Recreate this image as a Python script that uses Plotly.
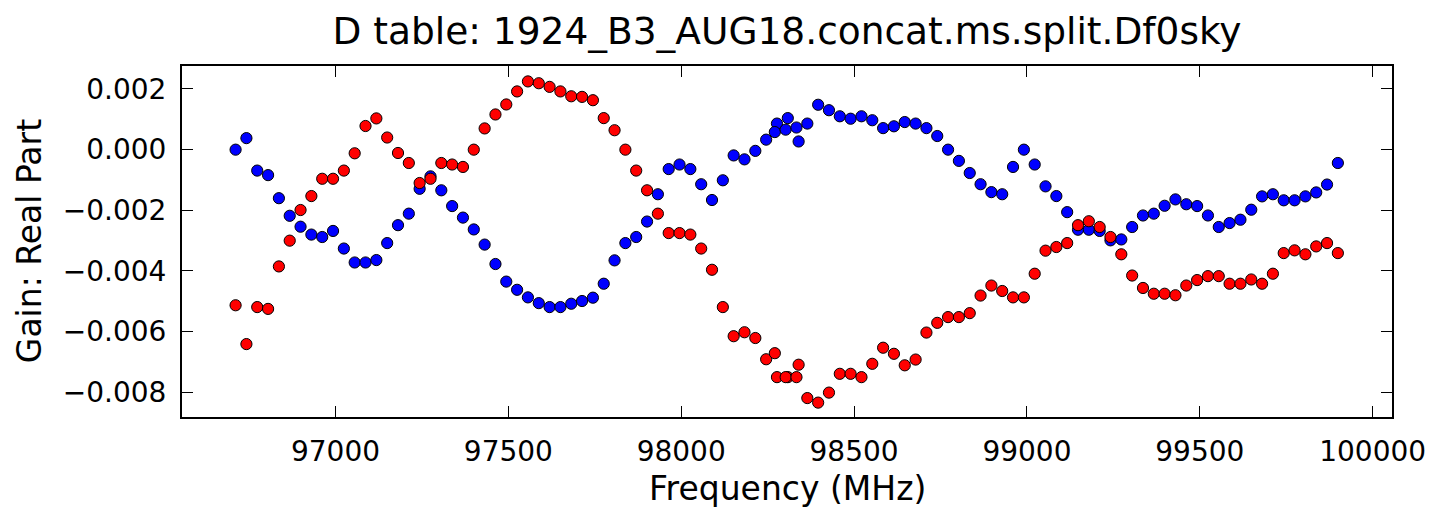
import plotly.graph_objects as go

TITLE = "D table: 1924_B3_AUG18.concat.ms.split.Df0sky"
X_LABEL = "Frequency (MHz)"
Y_LABEL = "Gain: Real Part"

# Spectral window A (MHz)
freq_a = [96711.0, 96742.3, 96773.6, 96805.0, 96836.3, 96867.6, 96898.9, 96930.2, 96961.6, 96992.9,
          97024.2, 97055.5, 97086.8, 97118.2, 97149.5, 97180.8, 97212.1, 97243.4, 97274.8, 97306.1,
          97337.4, 97368.7, 97400.0, 97431.4, 97462.7, 97494.0, 97525.3, 97556.6, 97588.0, 97619.3,
          97650.6, 97681.9, 97713.2, 97744.6, 97775.9, 97807.2, 97838.5, 97869.8, 97901.2, 97932.5,
          97963.8, 97995.1, 98026.4, 98057.8, 98089.1, 98120.4, 98151.7, 98183.0, 98214.4, 98245.7,
          98277.0, 98308.3, 98339.6]
blue_a = [0.00000, 0.00038, -0.00069, -0.00084, -0.00160, -0.00218, -0.00254, -0.00280, -0.00288, -0.00268,
          -0.00326, -0.00372, -0.00372, -0.00364, -0.00308, -0.00249, -0.00211, -0.00129, -0.00088, -0.00134,
          -0.00186, -0.00224, -0.00263, -0.00313, -0.00377, -0.00435, -0.00462, -0.00487, -0.00506, -0.00519,
          -0.00519, -0.00508, -0.00499, -0.00488, -0.00442, -0.00365, -0.00308, -0.00288, -0.00237, -0.00147,
          -0.00064, -0.00049, -0.00064, -0.00114, -0.00166, -0.00101, -0.00019, -0.00032, -0.00004, 0.00033,
          0.00086, 0.00104, 0.00027]
red_a = [-0.00513, -0.00641, -0.00519, -0.00525, -0.00385, -0.00300, -0.00199, -0.00153, -0.00096, -0.00096,
         -0.00069, -0.00012, 0.00078, 0.00103, 0.00040, -0.00011, -0.00044, -0.00110, -0.00096, -0.00044,
         -0.00049, -0.00057, 0.00000, 0.00070, 0.00116, 0.00149, 0.00192, 0.00225, 0.00219, 0.00207,
         0.00192, 0.00176, 0.00174, 0.00163, 0.00104, 0.00064, 0.00000, -0.00069, -0.00134, -0.00211,
         -0.00275, -0.00275, -0.00280, -0.00326, -0.00396, -0.00519, -0.00615, -0.00602, -0.00621, -0.00691,
         -0.00750, -0.00750, -0.00709]

# Spectral window B (MHz)
freq_b = [98270.8, 98302.1, 98333.4, 98364.8, 98396.1, 98427.4, 98458.7, 98490.0, 98521.4, 98552.7,
          98584.0, 98615.3, 98646.6, 98678.0, 98709.3, 98740.6, 98771.9, 98803.2, 98834.6, 98865.9,
          98897.2, 98928.5, 98959.8, 98991.2, 99022.5, 99053.8, 99085.1, 99116.4, 99147.8, 99179.1,
          99210.4, 99241.7, 99273.0, 99304.4, 99335.7, 99367.0, 99398.3, 99429.6, 99461.0, 99492.3,
          99523.6, 99554.9, 99586.2, 99617.6, 99648.9, 99680.2, 99711.5, 99742.8, 99774.2, 99805.5,
          99836.8, 99868.1, 99899.4]
blue_b = [0.00058, 0.00066, 0.00073, 0.00086, 0.00148, 0.00130, 0.00110, 0.00102, 0.00110, 0.00097,
          0.00071, 0.00077, 0.00091, 0.00086, 0.00071, 0.00045, 0.00000, -0.00037, -0.00077, -0.00114,
          -0.00140, -0.00147, -0.00057, 0.00000, -0.00049, -0.00121, -0.00153, -0.00206, -0.00264, -0.00264,
          -0.00268, -0.00299, -0.00296, -0.00255, -0.00217, -0.00211, -0.00185, -0.00164, -0.00180, -0.00186,
          -0.00217, -0.00255, -0.00242, -0.00231, -0.00198, -0.00154, -0.00147, -0.00167, -0.00167, -0.00154,
          -0.00141, -0.00115, -0.00044]
red_b = [-0.00671, -0.00750, -0.00750, -0.00819, -0.00834, -0.00801, -0.00739, -0.00739, -0.00750, -0.00706,
         -0.00653, -0.00673, -0.00711, -0.00692, -0.00603, -0.00571, -0.00552, -0.00552, -0.00539, -0.00481,
         -0.00448, -0.00466, -0.00487, -0.00487, -0.00409, -0.00333, -0.00321, -0.00308, -0.00249, -0.00236,
         -0.00255, -0.00288, -0.00345, -0.00415, -0.00456, -0.00475, -0.00475, -0.00480, -0.00448, -0.00430,
         -0.00417, -0.00417, -0.00442, -0.00442, -0.00428, -0.00442, -0.00409, -0.00341, -0.00332, -0.00345,
         -0.00319, -0.00308, -0.00341]

x_ticks = [97000, 97500, 98000, 98500, 99000, 99500, 100000]
x_tick_labels = ["97000", "97500", "98000", "98500", "99000", "99500", "100000"]
y_ticks = [0.002, 0.0, -0.002, -0.004, -0.006, -0.008]
y_tick_labels = ["0.002", "0.000", "\u22120.002", "\u22120.004", "\u22120.006", "\u22120.008"]

FONT = "DejaVu Sans"

fig = go.Figure()
marker_common = dict(size=11.2, line=dict(color="black", width=1.0))
fig.add_trace(go.Scatter(x=freq_a + freq_b, y=blue_a + blue_b, mode="markers",
                         marker=dict(color="#0000ff", **marker_common), showlegend=False))
fig.add_trace(go.Scatter(x=freq_a + freq_b, y=red_a + red_b, mode="markers",
                         marker=dict(color="#ff0000", **marker_common), showlegend=False))

axis_common = dict(
    showline=True, linecolor="black", linewidth=2, mirror="allticks",
    ticks="inside", ticklen=11, tickwidth=1.3, tickcolor="black",
    showgrid=False, zeroline=False,
    tickfont=dict(family=FONT, size=28, color="black"),
)
fig.update_xaxes(range=[96556, 100056], tickmode="array", tickvals=x_ticks, ticktext=x_tick_labels,
                 ticklabelstandoff=8, **axis_common)
fig.update_yaxes(range=[-0.008814, 0.002758], tickmode="array", tickvals=y_ticks, ticktext=y_tick_labels,
                 ticklabelstandoff=8, **axis_common)

fig.update_layout(
    width=1438, height=507, autosize=False,
    margin=dict(l=182, r=36, t=66, b=90, pad=0),
    paper_bgcolor="white", plot_bgcolor="white",
    font=dict(family=FONT, color="black"),
    title=dict(text=TITLE, x=0.5, xref="paper", xanchor="center",
               y=1 - 31 / 507, yref="container", yanchor="middle",
               font=dict(family=FONT, size=37.5, color="black")),
    annotations=[
        dict(text=X_LABEL, x=0.5, xref="paper", y=-0.2023, yref="paper",
             xanchor="center", yanchor="middle", showarrow=False,
             font=dict(family=FONT, size=33, color="black")),
        dict(text=Y_LABEL, x=-0.1263, xref="paper", y=0.5014, yref="paper",
             xanchor="center", yanchor="middle", textangle=-90, showarrow=False,
             font=dict(family=FONT, size=33, color="black")),
    ],
)

fig.write_html("out.html")
